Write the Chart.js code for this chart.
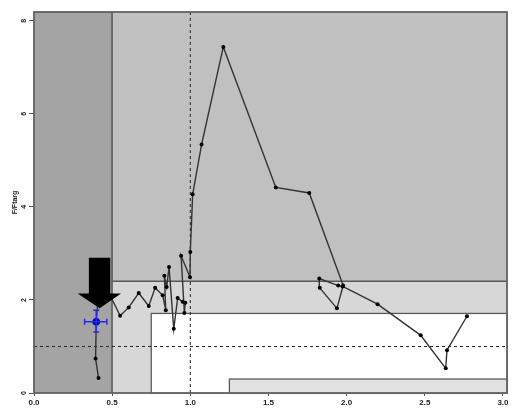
<!DOCTYPE html>
<html>
<head>
<meta charset="utf-8">
<script src="https://cdn.jsdelivr.net/npm/chart.js@4.4.0/dist/chart.umd.min.js"></script>
<style>
  body { margin: 0; background: #fff; }
</style>
</head>
<body>
<canvas id="myChart" width="512" height="409"></canvas>
<script>
// trajectory (x = biomass ratio, y = F/Ftarg), in plotted order
var pathX = [0.413, 0.394, 0.398, 0.41, 0.49, 0.551, 0.606, 0.670, 0.734, 0.775, 0.823, 0.843, 0.834, 0.849, 0.864,
             0.894, 0.919, 0.951, 0.968, 0.962, 0.941, 0.998, 1.0, 1.015, 1.072, 1.211, 1.547, 1.761, 1.978,
             1.938, 1.828, 1.825, 1.946, 1.975, 2.198, 2.474, 2.634, 2.642, 2.770];
var pathY = [0.32, 0.74, 1.53, 2.0, 2.08, 1.66, 1.84, 2.15, 1.87, 2.26, 2.10, 1.78, 2.52, 2.28, 2.71,
             1.38, 2.04, 1.96, 1.94, 1.72, 2.95, 2.49, 3.03, 4.27, 5.34, 7.44, 4.42, 4.30, 2.31,
             1.82, 2.26, 2.46, 2.31, 2.29, 1.91, 1.24, 0.53, 0.92, 1.65];

// last assessment estimate with its intervals
var lastX = [0.398];
var lastY = [1.53];
var lastXLow = [0.324];
var lastXHigh = [0.466];
var lastYLow = [1.31];
var lastYHigh = [1.78];

var xTicks = [0, 0.5, 1, 1.5, 2, 2.5, 3];
var yTicks = [0, 2, 4, 6, 8];
var xMax = 3.026;
var yMax = 8.19;

// reference zones (limits)
var zoneX0 = [0, 0.5, 0.5, 0.75, 1.25];
var zoneX1 = [0.5, xMax, xMax, xMax, xMax];
var zoneY0 = [0, 2.4, 0, 0, 0];
var zoneY1 = [yMax, yMax, 2.4, 1.71, 0.3];
var zoneColors = ['#a4a4a4', '#c0c0c0', '#d7d7d7', '#ffffff', '#e2e2e2'];

var refX = 1;
var refY = 1;

// arrow pointing at the last estimate
var arrowCx = 0.42;
var arrowShaft = [0.351, 0.488];
var arrowHead = [0.279, 0.557];
var arrowTop = 2.91;
var arrowNeck = 2.14;
var arrowTip = 1.82;

var fontFam = "'Liberation Sans', Arial, sans-serif";

var backgroundPlugin = {
  id: 'zones',
  beforeDatasetsDraw: function(chart) {
    let ctx = chart.ctx;
    let xs = chart.scales.x, ys = chart.scales.y;
    let area = chart.chartArea;
    ctx.save();
    zoneX0.forEach(function(x0, i) {
      let l = xs.getPixelForValue(x0);
      let r = xs.getPixelForValue(zoneX1[i]);
      let t = ys.getPixelForValue(zoneY1[i]);
      let b = ys.getPixelForValue(zoneY0[i]);
      ctx.fillStyle = zoneColors[i];
      ctx.fillRect(l, t, r - l, b - t);
      ctx.strokeStyle = '#5a5a5a';
      ctx.lineWidth = 1.3;
      ctx.strokeRect(l, t, r - l, b - t);
    });
    // dashed reference lines
    ctx.strokeStyle = '#222';
    ctx.lineWidth = 1;
    ctx.setLineDash([3, 3]);
    ctx.beginPath();
    let px = xs.getPixelForValue(refX);
    ctx.moveTo(px, area.top);
    ctx.lineTo(px, area.bottom);
    let py = ys.getPixelForValue(refY);
    ctx.moveTo(area.left, py);
    ctx.lineTo(area.right, py);
    ctx.stroke();
    ctx.setLineDash([]);
    // frame
    ctx.strokeStyle = '#666';
    ctx.lineWidth = 1.5;
    ctx.strokeRect(area.left, area.top, area.right - area.left, area.bottom - area.top);
    ctx.restore();
  },
  afterDatasetsDraw: function(chart) {
    let ctx = chart.ctx;
    let xs = chart.scales.x, ys = chart.scales.y;
    ctx.save();
    // error bars
    ctx.strokeStyle = '#2a2ad8';
    ctx.lineWidth = 1.5;
    lastX.forEach(function(x, i) {
      let cx = xs.getPixelForValue(x), cy = ys.getPixelForValue(lastY[i]);
      let x0 = xs.getPixelForValue(lastXLow[i]), x1 = xs.getPixelForValue(lastXHigh[i]);
      let y0 = ys.getPixelForValue(lastYLow[i]), y1 = ys.getPixelForValue(lastYHigh[i]);
      ctx.beginPath();
      ctx.moveTo(x0, cy); ctx.lineTo(x1, cy);
      ctx.moveTo(x0, cy - 3); ctx.lineTo(x0, cy + 3);
      ctx.moveTo(x1, cy - 3); ctx.lineTo(x1, cy + 3);
      ctx.moveTo(cx, y0); ctx.lineTo(cx, y1);
      ctx.moveTo(cx - 3, y0); ctx.lineTo(cx + 3, y0);
      ctx.moveTo(cx - 3, y1); ctx.lineTo(cx + 3, y1);
      ctx.stroke();
    });
    // arrow
    ctx.fillStyle = '#000';
    ctx.beginPath();
    ctx.moveTo(xs.getPixelForValue(arrowShaft[0]), ys.getPixelForValue(arrowTop));
    ctx.lineTo(xs.getPixelForValue(arrowShaft[1]), ys.getPixelForValue(arrowTop));
    ctx.lineTo(xs.getPixelForValue(arrowShaft[1]), ys.getPixelForValue(arrowNeck));
    ctx.lineTo(xs.getPixelForValue(arrowHead[1]), ys.getPixelForValue(arrowNeck));
    ctx.lineTo(xs.getPixelForValue(arrowCx), ys.getPixelForValue(arrowTip));
    ctx.lineTo(xs.getPixelForValue(arrowHead[0]), ys.getPixelForValue(arrowNeck));
    ctx.lineTo(xs.getPixelForValue(arrowShaft[0]), ys.getPixelForValue(arrowNeck));
    ctx.closePath();
    ctx.fill();
    ctx.restore();
  },
  afterDraw: function(chart) {
    // rotated y tick labels, like R's default
    let ctx = chart.ctx;
    let ys = chart.scales.y;
    ctx.save();
    ctx.fillStyle = '#222';
    ctx.font = 'bold 7px ' + fontFam;
    ctx.textAlign = 'center';
    ctx.textBaseline = 'middle';
    ys.ticks.forEach(function(t) {
      ctx.save();
      ctx.translate(ys.right - 10, ys.getPixelForValue(t.value));
      ctx.rotate(-Math.PI / 2);
      ctx.fillText(String(t.value), 0, 0);
      ctx.restore();
    });
    ctx.restore();
  }
};

var ctx = document.getElementById('myChart');
var myChart = new Chart(ctx, {
  type: 'scatter',
  data: {
    datasets: [{
      data: pathX.map(function(x, i) { return {x: x, y: pathY[i]}; }),
      showLine: true,
      borderColor: '#333',
      borderWidth: 1.4,
      pointRadius: 2,
      pointBackgroundColor: '#000',
      pointBorderColor: '#000',
      pointBorderWidth: 0
    }, {
      data: lastX.map(function(x, i) { return {x: x, y: lastY[i]}; }),
      pointRadius: 3.5,
      pointBackgroundColor: '#0000e6',
      pointBorderColor: '#0000e6'
    }]
  },
  options: {
    responsive: false,
    animation: false,
    layout: { padding: { top: 12, right: 3, left: 0, bottom: 0 } },
    plugins: { legend: { display: false }, tooltip: { enabled: false } },
    scales: {
      x: {
        type: 'linear',
        min: 0,
        max: xMax,
        afterBuildTicks: function(s) { s.ticks = xTicks.map(function(v) { return {value: v}; }); },
        afterFit: function(s) { s.height = 16; s.paddingLeft = 0; s.paddingRight = 0; },
        border: { display: false },
        grid: { drawOnChartArea: false, drawTicks: true, tickLength: 3, color: '#555' },
        ticks: {
          maxRotation: 0,
          padding: 2,
          color: '#222',
          font: { family: fontFam, size: 8, weight: 'bold' },
          callback: function(v) { return Number(v).toFixed(1); }
        }
      },
      y: {
        type: 'linear',
        min: 0,
        max: yMax,
        afterBuildTicks: function(s) { s.ticks = yTicks.map(function(v) { return {value: v}; }); },
        afterFit: function(s) { s.width = 34; s.paddingTop = 0; s.paddingBottom = 0; },
        border: { display: false },
        grid: { drawOnChartArea: false, drawTicks: true, tickLength: 5, color: '#555' },
        ticks: { display: false },
        title: {
          display: true,
          text: 'F/Ftarg',
          color: '#222',
          padding: { top: 11, bottom: 0 },
          font: { family: fontFam, size: 7, weight: 'bold' }
        }
      }
    }
  },
  plugins: [backgroundPlugin]
});
</script>
</body>
</html>
